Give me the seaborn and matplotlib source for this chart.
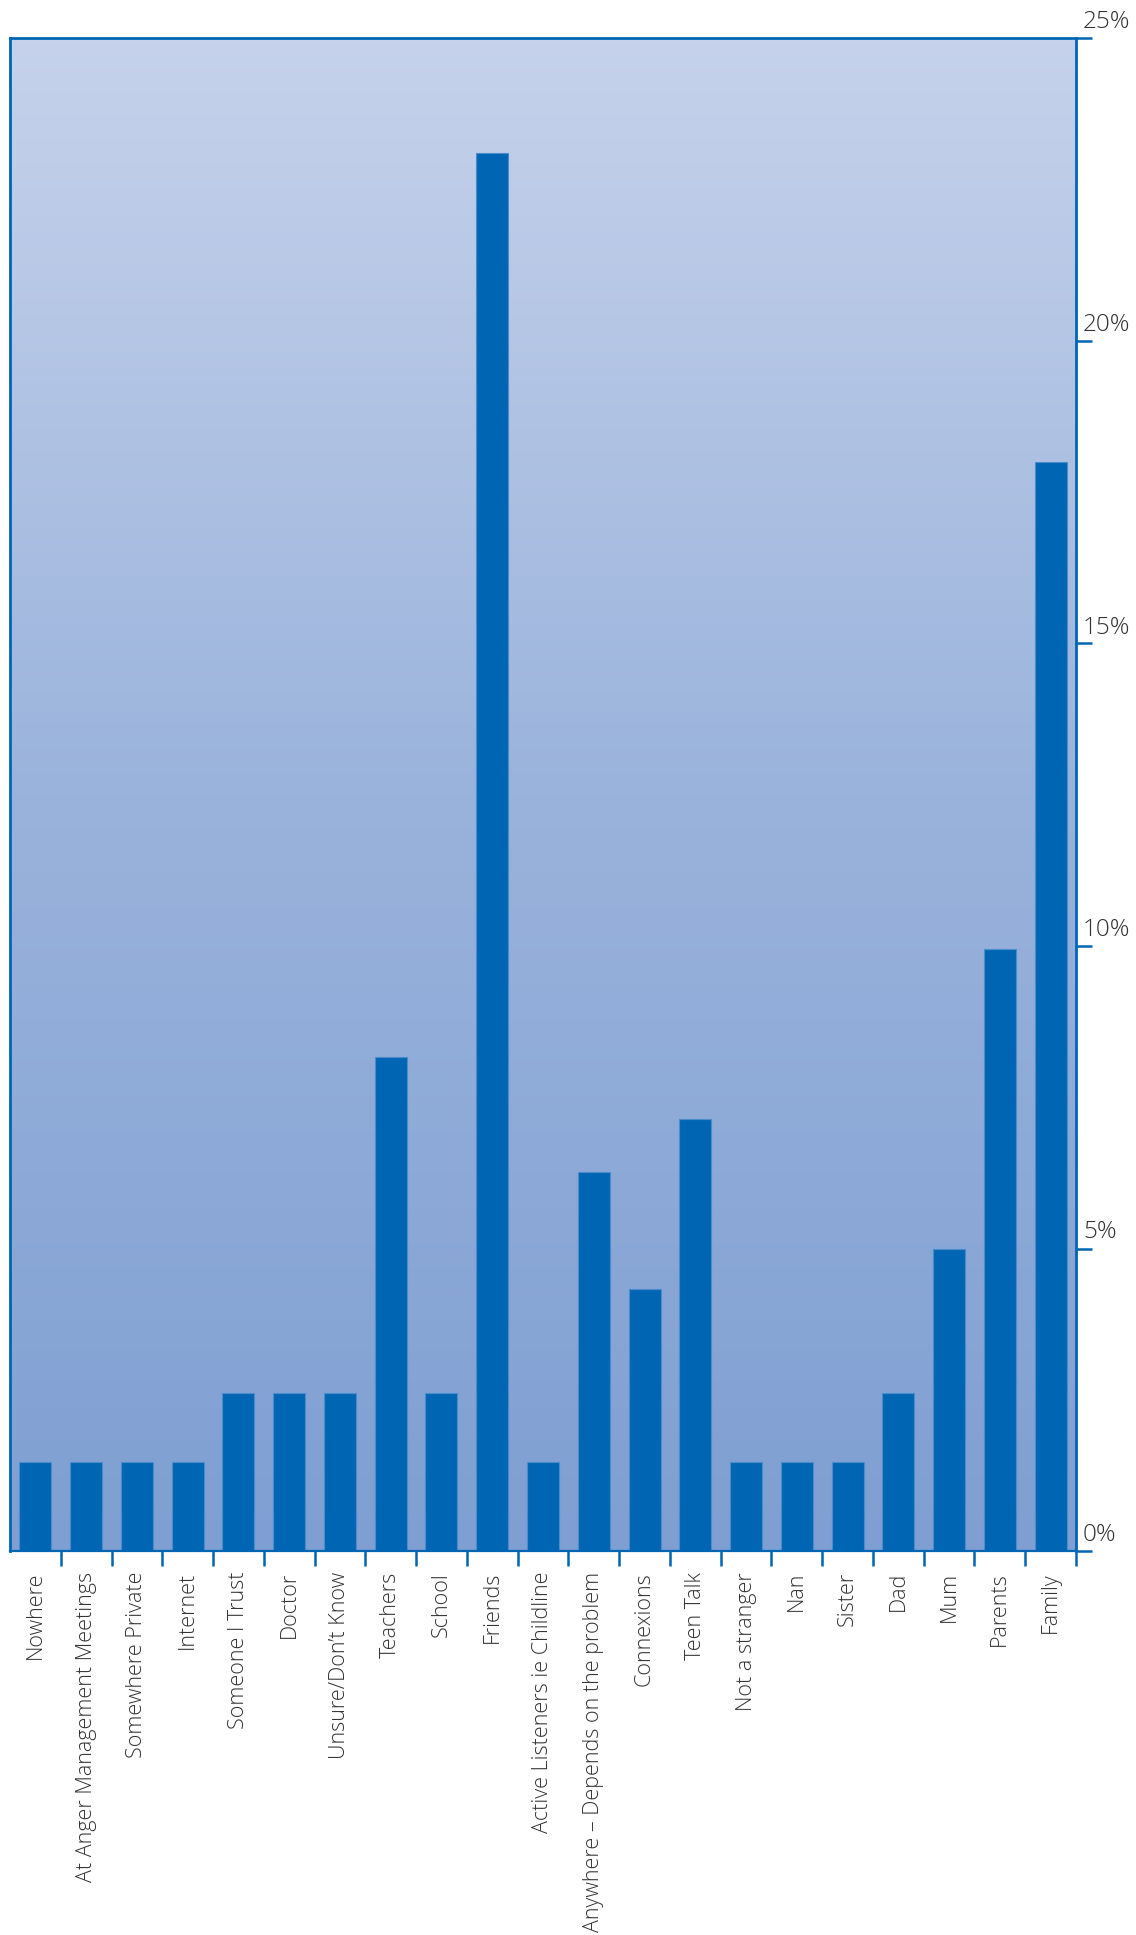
import numpy as np
import pandas as pd
import matplotlib.pyplot as plt
import matplotlib.transforms as mtransforms
from matplotlib.colors import LinearSegmentedColormap
import seaborn as sns

# where young people would go to talk about a problem (% of answers)
places = ['Nowhere', 'At Anger Management Meetings', 'Somewhere Private', 'Internet',
          'Someone I Trust', 'Doctor', 'Unsure/Don\u2019t Know', 'Teachers', 'School',
          'Friends', 'Active Listeners ie Childline', 'Anywhere \u2013 Depends on the problem',
          'Connexions', 'Teen Talk', 'Not a stranger', 'Nan', 'Sister', 'Dad', 'Mum',
          'Parents', 'Family']
percent = [1.47, 1.47, 1.47, 1.47, 2.61, 2.61, 2.61, 8.17, 2.61, 23.1, 1.47, 6.26,
           4.33, 7.14, 1.47, 1.47, 1.47, 2.61, 4.99, 9.95, 18.0]
y_ticks = [0, 5, 10, 15, 20, 25]
y_labels = ['0%', '5%', '10%', '15%', '20%', '25%']

df = pd.DataFrame({'place': places, 'percent': percent})

sns.set_style('white')
plt.rcParams['font.family'] = ['Open Sans', 'DejaVu Sans']

blue = '#0066b3'
txt = '#333333'

W, H = 1136, 1935
fig = plt.figure(figsize=(W / 100, H / 100), dpi=100)
ax = fig.add_axes([10 / W, 1 - 1551 / H, 1066 / W, 1512.5 / H])

# background gradient, light at the top, darker at the bottom
cmap = LinearSegmentedColormap.from_list('bg', ['#7f9fd2', '#9ab3dc', '#c6d2eb'])
grad = np.linspace(0, 1, 256).reshape(-1, 1)
ax.imshow(grad, extent=[0, 1, 0, 1], transform=ax.transAxes, origin='lower',
          cmap=cmap, aspect='auto', zorder=0)

sns.barplot(data=df, x='place', y='percent', order=places, color=blue, saturation=1,
            width=0.63, edgecolor='#4a8ccc', linewidth=0.8, ax=ax, zorder=2)

ax.set_xlim(-0.5, len(places) - 0.5)
ax.set_ylim(0, 25)
ax.set_xlabel('')
ax.set_ylabel('')

for side in ['left', 'top', 'right']:
    ax.spines[side].set_color(blue)
    ax.spines[side].set_linewidth(2.0)
ax.spines['bottom'].set_color(blue)
ax.spines['bottom'].set_linewidth(1.6)

# y axis on the right, labels sit above the ticks
ax.yaxis.tick_right()
ax.set_yticks(y_ticks)
ax.set_yticklabels([])
ax.tick_params(axis='y', which='major', direction='out', length=11.5, width=1.8,
               color=blue, right=True, left=False)
tr = mtransforms.offset_copy(ax.get_yaxis_transform(), fig=fig, x=7, y=10, units='dots')
for y, lab in zip(y_ticks, y_labels):
    ax.text(1.0, y, lab, transform=tr, ha='left', va='baseline', fontsize=17.5,
            fontweight='light', color=txt)

# category labels, ticks between the bars
ax.set_xticks(range(len(places)))
ax.set_xticklabels(places, rotation=90, fontsize=15.5, fontweight='light', color=txt)
ax.tick_params(axis='x', which='major', length=0, pad=15)
ax.set_xticks(np.arange(0.5, len(places), 1), minor=True)
ax.tick_params(axis='x', which='minor', direction='out', length=11, width=1.8,
               color=blue, bottom=True)

fig.savefig('out.png', dpi=100)
print('OK')
